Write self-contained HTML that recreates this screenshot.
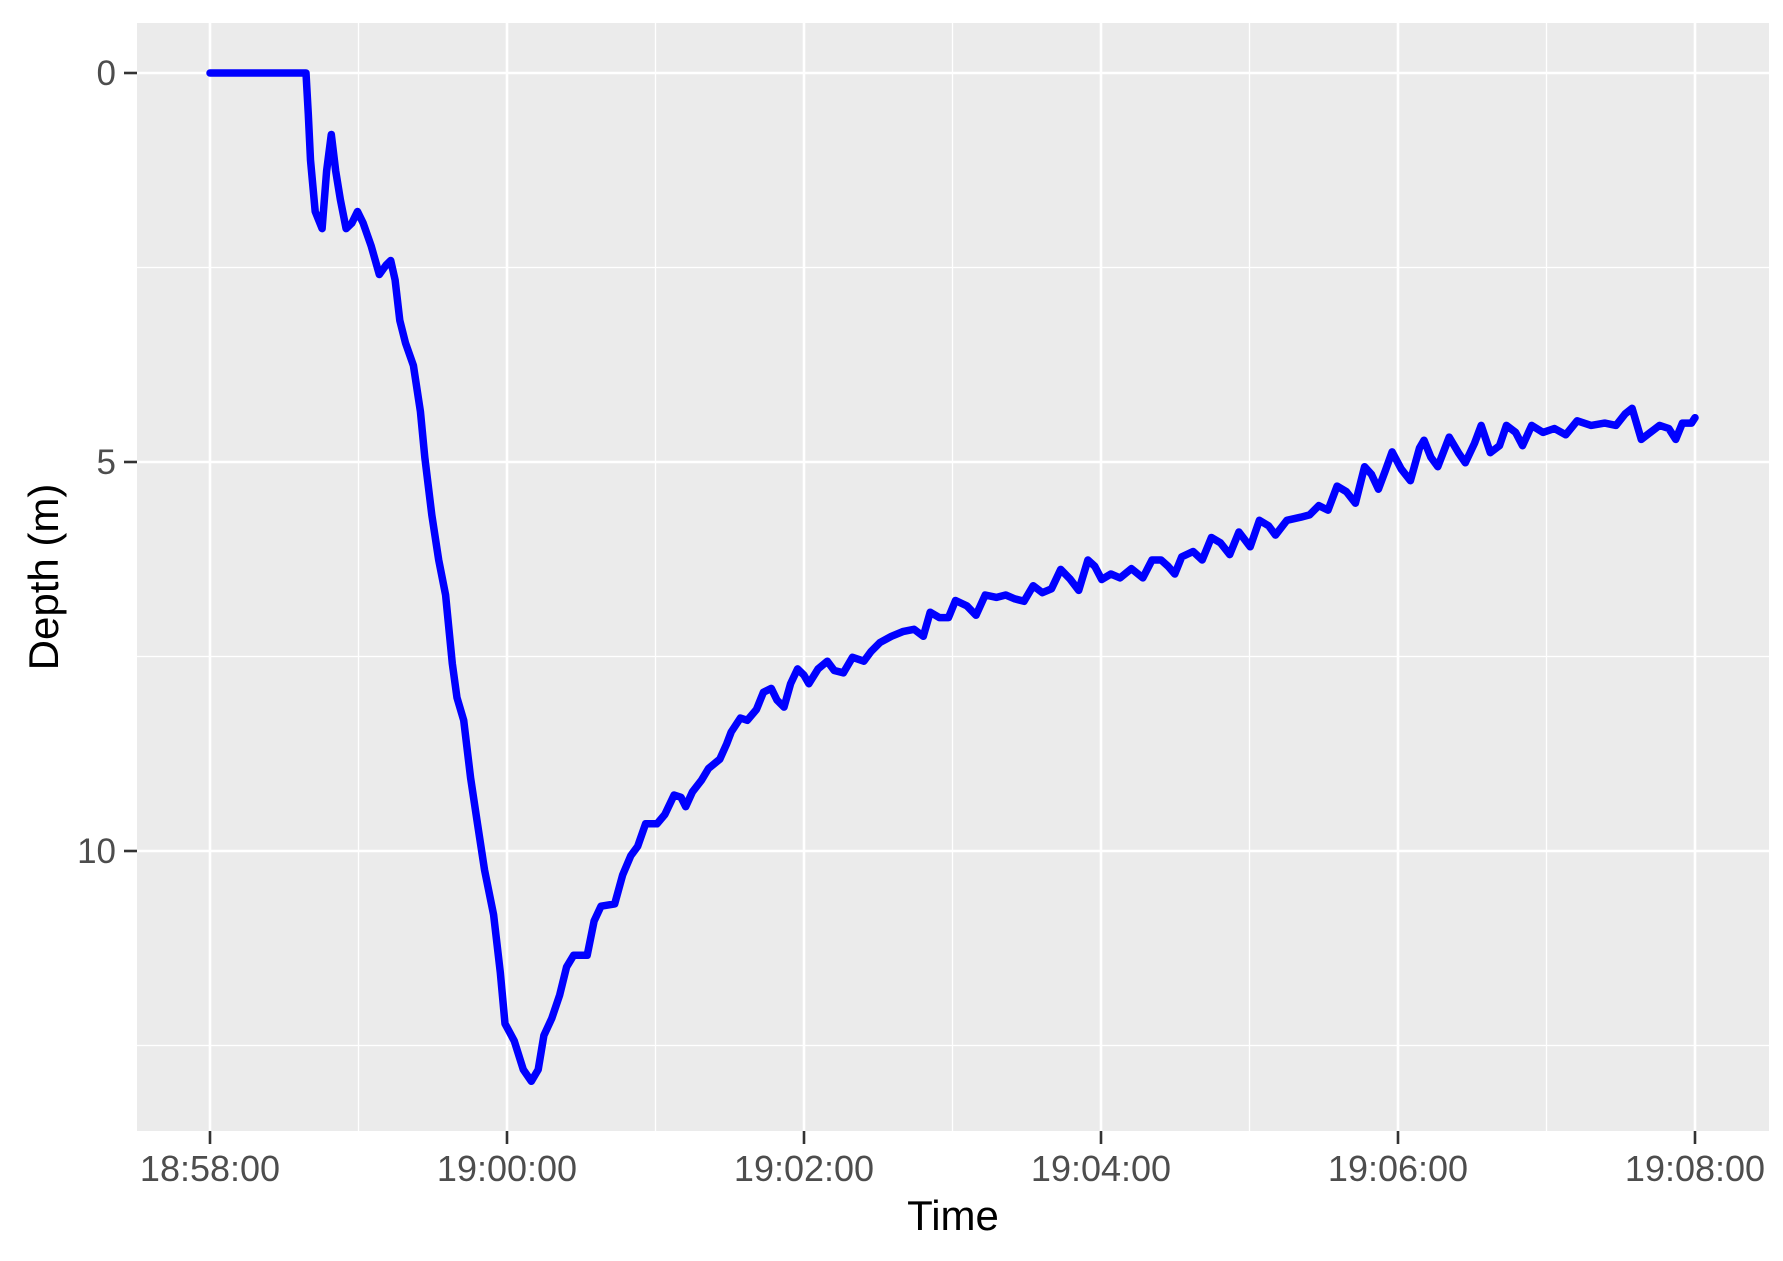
<!DOCTYPE html>
<html><head><meta charset="utf-8"><style>
body{margin:0;background:#fff}
text{font-family:"Liberation Sans",Arial,sans-serif}
</style></head><body>
<svg id="chart" width="1783" height="1256" xmlns="http://www.w3.org/2000/svg">
<rect x="137" y="23" width="1632" height="1108" fill="#ebebeb"/>
<g id="grid"></g>
<g id="axes"></g>
<path id="line" fill="none" stroke="#0000ff" stroke-width="7.5" stroke-linejoin="round" stroke-linecap="round"/>
<text x="953" y="1230" font-size="42" text-anchor="middle" fill="#000">Time</text>
<text x="0" y="0" transform="translate(58,577) rotate(-90)" font-size="42" text-anchor="middle" fill="#000">Depth (m)</text>
</svg>
<script>
const timeSec=[0,38.8,39.7,40.6,42.5,45.3,47.1,49,50.8,52.7,55,57.3,59.6,61.9,65.1,68.4,71.1,73,74.8,76.7,79,82.2,85,86.8,89.6,92.4,95.2,97.9,99.8,102.5,105.3,108.1,110.9,114.6,117.3,119.2,122.9,126.6,129.8,132.6,134.9,138.1,141.3,144.1,146.9,149.7,152.4,155.2,158,163.5,166.7,170,172.8,176,180.6,183.8,187.5,190.3,192.2,194.9,198.6,201.4,206,208.8,210.6,214.3,217.1,220.8,223.6,226.8,229.1,231.9,234.6,237.4,240,242,245.7,249.4,252.2,255.9,259.6,264.2,267,270.7,275.3,279.9,284.5,288.2,291,294.7,298.4,301.2,305.8,309.5,313.2,317.8,321.5,325.2,328.9,332.6,336.3,340,343.7,347.4,351,354.7,357.5,360.3,364,367.7,372.3,376.9,380.6,384.3,387.1,389.8,392.6,397.2,400.9,404.6,408.3,412,415.7,420.3,424,427.7,430.5,435.1,440.7,444.3,448,451.7,455.4,459.1,462.8,466.5,469.3,472.1,474.8,477.6,481.3,485,488.7,490.5,493.3,496.1,500.7,504.4,507.2,510.9,513.6,517.3,521,523.8,527.5,530.3,534,538.6,543.2,547.8,552.4,558,563.5,568.1,571.8,574.6,578.3,582,585.7,589.4,592.2,594.9,598.6,600];
const depthM=[0,0,0.53,1.12,1.78,2.0,1.26,0.79,1.26,1.63,2.0,1.93,1.78,1.93,2.22,2.59,2.47,2.41,2.66,3.18,3.47,3.76,4.35,4.94,5.68,6.26,6.71,7.59,8.03,8.32,9.06,9.65,10.24,10.82,11.56,12.22,12.44,12.81,12.96,12.81,12.37,12.15,11.85,11.49,11.34,11.34,11.34,10.9,10.71,10.68,10.31,10.06,9.94,9.65,9.65,9.53,9.28,9.31,9.43,9.24,9.09,8.94,8.82,8.62,8.47,8.29,8.32,8.18,7.96,7.91,8.06,8.15,7.85,7.66,7.74,7.85,7.66,7.56,7.68,7.71,7.51,7.56,7.44,7.32,7.24,7.18,7.15,7.24,6.93,7.0,7.0,6.78,6.85,6.97,6.71,6.74,6.71,6.76,6.79,6.59,6.68,6.63,6.38,6.5,6.65,6.26,6.34,6.51,6.44,6.49,6.37,6.49,6.26,6.26,6.34,6.44,6.22,6.15,6.26,5.97,6.04,6.19,5.9,6.09,5.75,5.82,5.94,5.75,5.71,5.68,5.56,5.62,5.31,5.38,5.53,5.06,5.16,5.35,5.12,4.87,5.09,5.24,4.82,4.72,4.94,5.06,4.68,4.88,5.01,4.76,4.53,4.88,4.79,4.53,4.62,4.79,4.53,4.62,4.57,4.65,4.47,4.53,4.5,4.53,4.38,4.31,4.71,4.62,4.53,4.57,4.71,4.5,4.5,4.43];
const yTickVals=[0,5,10];
const yTickLabels=["0","5","10"];
const xTickMin=[0,2,4,6,8,10];
const xTickLabels=["18:58:00","19:00:00","19:02:00","19:04:00","19:06:00","19:08:00"];
const NS="http://www.w3.org/2000/svg";
const X=t=>210+t/60*148.5;
const Y=d=>73+d*77.8;
const L=137,R=1769,T=23,B=1131;
const grid=document.getElementById('grid'),axes=document.getElementById('axes');
function mk(tag,attrs,parent){const e=document.createElementNS(NS,tag);for(const k in attrs)e.setAttribute(k,attrs[k]);parent.appendChild(e);return e;}
for(let d=-2.5;d<=15;d+=2.5){const y=Y(d);if(y<T||y>B)continue;const major=yTickVals.includes(d);
const g=mk('line',{x1:L,x2:R,y1:y,y2:y,stroke:'#fff','stroke-width':major?2.6:1.3},grid);

}
for(let m=-1;m<=11;m++){const x=X(m*60);if(x<L||x>R)continue;const major=m%2===0;
const g=mk('line',{x1:x,x2:x,y1:T,y2:B,stroke:'#fff','stroke-width':major?2.6:1.3},grid);

}
yTickVals.forEach((v,i)=>{const y=Y(v);
const t=mk('line',{x1:124,x2:137,y1:y,y2:y,stroke:'#333','stroke-width':2.6},axes);


const l=mk('text',{x:116,y:y+12,'font-size':35,'text-anchor':'end',fill:'#4d4d4d'},axes);l.textContent=yTickLabels[i];

});
xTickMin.forEach((m,i)=>{const x=X(m*60);
const t=mk('line',{x1:x,x2:x,y1:1131,y2:1144,stroke:'#333','stroke-width':2.6},axes);


const l=mk('text',{x:x,y:1181,'font-size':36,'text-anchor':'middle',fill:'#4d4d4d'},axes);l.textContent=xTickLabels[i];

});
document.getElementById('line').setAttribute('d',timeSec.map((t,i)=>(i?'L':'M')+X(t).toFixed(1)+','+Y(depthM[i]).toFixed(1)).join(''));
</script>
</body></html>
